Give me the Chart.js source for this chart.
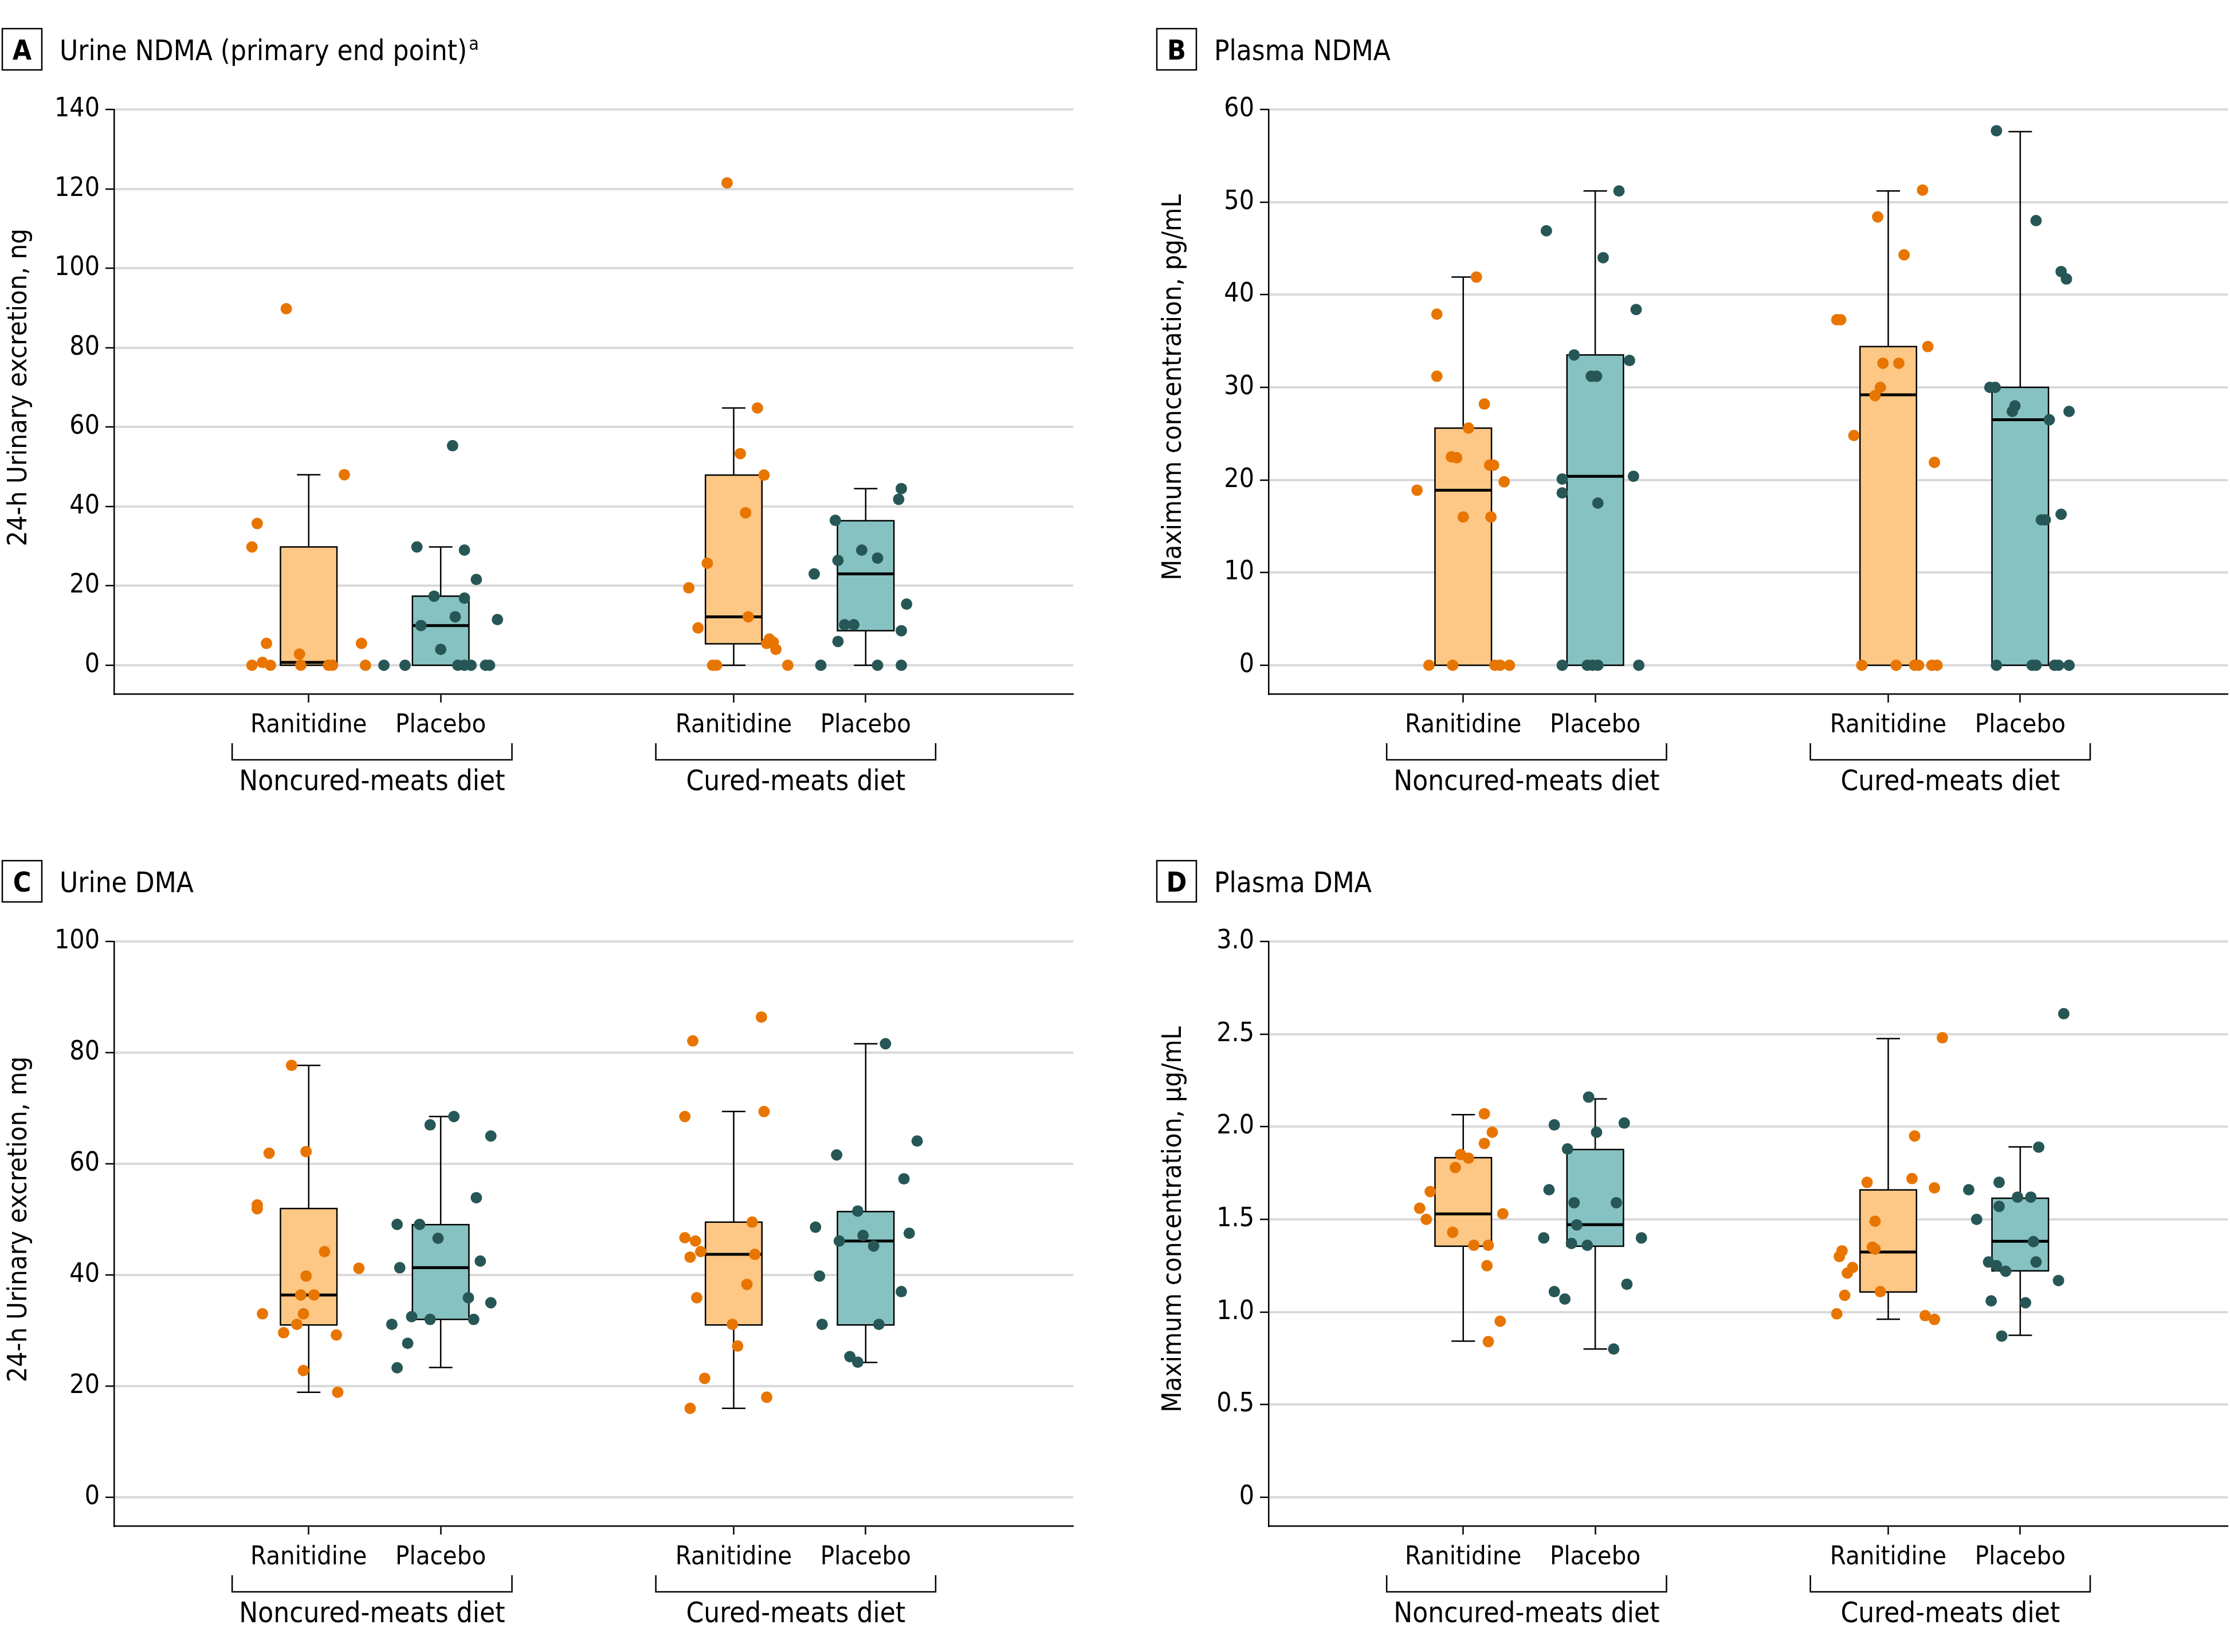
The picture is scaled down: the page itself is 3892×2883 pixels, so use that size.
<!DOCTYPE html>
<html>
<head>
<meta charset="utf-8">
<script src="https://cdn.jsdelivr.net/npm/chart.js@4.4.1/dist/chart.umd.min.js"></script>
<style>
  body { margin: 0; background: #fff; }
  #page { position: relative; width: 3892px; height: 2883px; background: #fff; overflow: hidden; }
  canvas { position: absolute; }
</style>
</head>
<body>
<div id="page">
  <canvas id="chartA" width="1883" height="1431" style="left:0px;top:0px"></canvas>
  <canvas id="chartB" width="1883" height="1431" style="left:2015px;top:0px"></canvas>
  <canvas id="chartC" width="1883" height="1431" style="left:0px;top:1452px"></canvas>
  <canvas id="chartD" width="1883" height="1431" style="left:2015px;top:1452px"></canvas>
</div>
<script>
const FONT = '"DejaVu Sans Condensed", "DejaVu Sans", sans-serif';

// categories
const groupLabels = ['Ranitidine', 'Placebo', 'Ranitidine', 'Placebo'];
const groupPos = [1, 2, 4.22, 5.22];
const dietLabels = ['Noncured-meats diet', 'Cured-meats diet'];
const dietPos = [1.48, 4.69];

// A - urine NDMA, ng (values + horizontal jitter in category units)
const aRanNon = [89.8, 35.7, 29.8, 48.0, 5.5, 5.5, 2.8, 0, 0.7, 0, 0, 0, 0, 0];
const aRanNonX = [-0.17, -0.39, -0.43, 0.27, -0.32, 0.40, -0.07, -0.43, -0.35, -0.29, -0.06, 0.15, 0.18, 0.43];
const aPlaNon = [55.3, 29.8, 29.0, 21.6, 17.4, 16.9, 12.2, 11.5, 10.0, 4.0, 0, 0, 0, 0, 0, 0, 0];
const aPlaNonX = [0.09, -0.18, 0.18, 0.27, -0.05, 0.18, 0.11, 0.43, -0.15, 0, -0.43, -0.27, 0.13, 0.18, 0.23, 0.34, 0.37];
const aRanCur = [121.5, 64.8, 53.3, 47.9, 38.4, 25.7, 19.5, 9.4, 12.2, 6.6, 5.5, 5.8, 4.0, 0, 0, 0];
const aRanCurX = [-0.05, 0.18, 0.05, 0.23, 0.09, -0.20, -0.34, -0.27, 0.11, 0.27, 0.25, 0.30, 0.32, -0.16, -0.13, 0.41];
const aPlaCur = [44.5, 41.8, 36.5, 23.0, 26.4, 29.0, 27.0, 15.4, 10.2, 10.2, 8.7, 6.0, 0, 0, 0];
const aPlaCurX = [0.27, 0.25, -0.23, -0.39, -0.21, -0.03, 0.09, 0.31, -0.16, -0.09, 0.27, -0.21, -0.34, 0.09, 0.27];
// [whisker low, Q1, median, Q3, whisker high]
const aBoxes = [[0, 0, 0.7, 29.8, 48.0], [0, 0, 10.0, 17.4, 29.8], [0, 5.4, 12.2, 47.9, 64.8], [0, 8.7, 23.0, 36.4, 44.5]];
const aTicks = [0, 20, 40, 60, 80, 100, 120, 140];

// B - plasma NDMA, pg/mL
const bRanNon = [41.9, 37.9, 31.2, 28.2, 25.6, 22.5, 22.4, 21.6, 21.6, 19.8, 18.9, 16.0, 16.0, 0, 0, 0, 0, 0];
const bRanNonX = [0.10, -0.20, -0.20, 0.16, 0.04, -0.09, -0.05, 0.20, 0.23, 0.31, -0.35, 0, 0.21, -0.26, -0.08, 0.24, 0.28, 0.35];
const bPlaNon = [51.2, 46.9, 44.0, 38.4, 33.5, 32.9, 31.2, 31.2, 20.1, 18.6, 20.4, 17.5, 0, 0, 0, 0, 0];
const bPlaNonX = [0.18, -0.37, 0.06, 0.31, -0.16, 0.26, -0.03, 0.01, -0.25, -0.25, 0.29, 0.02, -0.25, -0.06, -0.02, 0.02, 0.33];
const bRanCur = [51.3, 48.4, 44.3, 37.3, 37.3, 34.4, 32.6, 32.6, 30.0, 29.1, 24.8, 21.9, 0, 0, 0, 0, 0, 0];
const bRanCurX = [0.26, -0.08, 0.12, -0.39, -0.36, 0.30, -0.04, 0.08, -0.06, -0.10, -0.26, 0.35, -0.20, 0.06, 0.20, 0.23, 0.33, 0.37];
const bPlaCur = [57.7, 48.0, 42.5, 41.7, 30.0, 30.0, 28.0, 27.4, 26.5, 27.4, 15.7, 15.7, 16.3, 0, 0, 0, 0, 0, 0];
const bPlaCurX = [-0.18, 0.12, 0.31, 0.35, -0.23, -0.19, -0.04, -0.06, 0.22, 0.37, 0.16, 0.19, 0.31, -0.18, 0.09, 0.12, 0.26, 0.29, 0.37];
const bBoxes = [[0, 0, 18.9, 25.6, 41.9], [0, 0, 20.4, 33.5, 51.2], [0, 0, 29.2, 34.4, 51.2], [0, 0, 26.5, 30.0, 57.6]];
const bTicks = [0, 10, 20, 30, 40, 50, 60];

// C - urine DMA, mg
const cRanNon = [77.7, 61.9, 62.2, 52.6, 51.9, 44.2, 41.2, 39.8, 36.4, 36.4, 33.0, 33.0, 31.1, 29.6, 29.2, 22.8, 18.9];
const cRanNonX = [-0.13, -0.30, -0.02, -0.39, -0.39, 0.12, 0.38, -0.02, -0.06, 0.04, -0.35, -0.04, -0.09, -0.19, 0.21, -0.04, 0.22];
const cPlaNon = [68.5, 67.0, 65.0, 53.9, 49.1, 49.1, 46.6, 42.5, 41.3, 35.9, 35.0, 32.5, 32.0, 32.0, 31.1, 27.7, 23.3];
const cPlaNonX = [0.10, -0.08, 0.38, 0.27, -0.33, -0.16, -0.02, 0.30, -0.31, 0.21, 0.38, -0.22, -0.08, 0.25, -0.37, -0.25, -0.33];
const cRanCur = [86.4, 82.1, 68.5, 69.4, 49.5, 46.7, 46.1, 44.2, 43.2, 43.7, 38.3, 35.9, 31.1, 27.2, 21.4, 16.0, 18.0];
const cRanCurX = [0.21, -0.31, -0.37, 0.23, 0.14, -0.37, -0.29, -0.25, -0.33, 0.16, 0.10, -0.28, -0.01, 0.03, -0.22, -0.33, 0.25];
const cPlaCur = [81.6, 64.1, 61.6, 57.3, 51.5, 48.6, 47.5, 47.1, 46.1, 45.2, 39.8, 37.0, 31.1, 31.1, 25.3, 24.3];
const cPlaCurX = [0.15, 0.39, -0.22, 0.29, -0.06, -0.38, 0.33, -0.02, -0.20, 0.06, -0.35, 0.27, -0.33, 0.10, -0.12, -0.06];
const cBoxes = [[18.9, 31.0, 36.4, 51.95, 77.7], [23.35, 32.0, 41.3, 49.05, 68.5], [16.0, 31.0, 43.7, 49.5, 69.4], [24.25, 31.0, 46.1, 51.4, 81.6]];
const cTicks = [0, 20, 40, 60, 80, 100];

// D - plasma DMA, µg/mL
const dRanNon = [2.07, 1.97, 1.91, 1.85, 1.83, 1.78, 1.65, 1.56, 1.50, 1.53, 1.43, 1.36, 1.36, 1.25, 0.95, 0.84];
const dRanNonX = [0.16, 0.22, 0.16, -0.02, 0.04, -0.06, -0.25, -0.33, -0.28, 0.30, -0.08, 0.08, 0.19, 0.18, 0.28, 0.19];
const dPlaNon = [2.16, 2.01, 2.02, 1.97, 1.88, 1.66, 1.59, 1.59, 1.47, 1.40, 1.40, 1.37, 1.36, 1.15, 1.11, 1.07, 0.80];
const dPlaNonX = [-0.05, -0.31, 0.22, 0.01, -0.21, -0.35, -0.16, 0.16, -0.14, -0.39, 0.35, -0.18, -0.06, 0.24, -0.31, -0.23, 0.14];
const dRanCur = [2.48, 1.95, 1.70, 1.72, 1.67, 1.49, 1.35, 1.34, 1.33, 1.30, 1.24, 1.21, 1.11, 1.09, 0.99, 0.98, 0.96];
const dRanCurX = [0.41, 0.20, -0.16, 0.18, 0.35, -0.10, -0.12, -0.10, -0.35, -0.37, -0.27, -0.31, -0.06, -0.33, -0.39, 0.28, 0.35];
const dPlaCur = [2.61, 1.89, 1.70, 1.66, 1.62, 1.62, 1.57, 1.50, 1.38, 1.27, 1.25, 1.22, 1.27, 1.17, 1.06, 1.05, 0.87];
const dPlaCurX = [0.33, 0.14, -0.16, -0.39, -0.02, 0.08, -0.16, -0.33, 0.10, -0.24, -0.18, -0.11, 0.12, 0.29, -0.22, 0.04, -0.14];
const dBoxes = [[0.843, 1.355, 1.529, 1.833, 2.065], [0.80, 1.355, 1.471, 1.877, 2.15], [0.961, 1.108, 1.324, 1.659, 2.476], [0.874, 1.222, 1.382, 1.614, 1.891]];
const dTicks = [0, 0.5, 1.0, 1.5, 2.0, 2.5, 3.0];
const dTickLabels = ['0', '0.5', '1.0', '1.5', '2.0', '2.5', '3.0'];

const ORANGE = '#e87500';
const ORANGE_BOX = '#fdc785';
const TEAL = '#265756';
const TEAL_BOX = '#86c2c1';
const BOX_HALF = 0.214;
const CAP_HALF = 0.089;

const panelPlugin = (cfg) => ({
  id: 'panel' + cfg.letter,
  beforeDatasetsDraw(chart) {
    const { ctx, scales: { x, y } } = chart;
    const unit = x.getPixelForValue(1) - x.getPixelForValue(0);
    cfg.boxes.forEach((b, i) => {
      const [lo, q1, med, q3, hi] = b;
      const cx = x.getPixelForValue(groupPos[i]);
      const bw = BOX_HALF * unit, cw = CAP_HALF * unit;
      const yTop = y.getPixelForValue(q3), yBot = y.getPixelForValue(q1);
      ctx.save();
      ctx.strokeStyle = '#000';
      ctx.lineWidth = 2.5;
      // whiskers
      ctx.beginPath();
      if (hi > q3) {
        const yh = y.getPixelForValue(hi);
        ctx.moveTo(cx, yTop); ctx.lineTo(cx, yh);
        ctx.moveTo(cx - cw, yh); ctx.lineTo(cx + cw, yh);
      }
      if (lo < q1) {
        const yl = y.getPixelForValue(lo);
        ctx.moveTo(cx, yBot); ctx.lineTo(cx, yl);
        ctx.moveTo(cx - cw, yl); ctx.lineTo(cx + cw, yl);
      }
      ctx.stroke();
      // box
      ctx.fillStyle = i % 2 ? TEAL_BOX : ORANGE_BOX;
      ctx.fillRect(cx - bw, yTop, 2 * bw, yBot - yTop);
      ctx.strokeRect(cx - bw, yTop, 2 * bw, yBot - yTop);
      // median
      const ym = y.getPixelForValue(med);
      ctx.lineWidth = 5;
      ctx.beginPath();
      ctx.moveTo(cx - bw, ym); ctx.lineTo(cx + bw, ym);
      ctx.stroke();
      ctx.restore();
    });
  },
  afterDraw(chart) {
    const { ctx, chartArea, scales: { x, y } } = chart;
    ctx.save();
    ctx.strokeStyle = '#000';
    ctx.fillStyle = '#000';
    ctx.lineWidth = 2.5;

    // panel letter + title
    ctx.strokeRect(4, 50, 69, 72);
    ctx.font = `bold 48px ${FONT}`;
    ctx.textAlign = 'center';
    ctx.textBaseline = 'alphabetic';
    ctx.fillText(cfg.letter, 38.5, 104);
    ctx.font = `49px ${FONT}`;
    ctx.textAlign = 'left';
    ctx.fillText(cfg.title, 104, 105);
    if (cfg.sup) {
      const w = ctx.measureText(cfg.title).width;
      ctx.font = `32px ${FONT}`;
      ctx.fillText(cfg.sup, 104 + w + 3, 87);
    }

    // y axis title, centred on the gridded range
    const midY = (y.getPixelForValue(0) + y.getPixelForValue(cfg.yMax)) / 2;
    ctx.save();
    ctx.translate(34, midY);
    ctx.rotate(-Math.PI / 2);
    ctx.font = `47px ${FONT}`;
    ctx.textAlign = 'center';
    ctx.textBaseline = 'middle';
    ctx.fillText(cfg.yTitle, 0, 0);
    ctx.restore();

    // diet brackets
    const base = chartArea.bottom;
    dietPos.forEach((p, k) => {
      const l = x.getPixelForValue(p - 1.06), r = x.getPixelForValue(p + 1.06);
      ctx.beginPath();
      ctx.moveTo(l, base + 86); ctx.lineTo(l, base + 115);
      ctx.lineTo(r, base + 115); ctx.lineTo(r, base + 86);
      ctx.stroke();
      ctx.font = `49px ${FONT}`;
      ctx.textAlign = 'center';
      ctx.textBaseline = 'middle';
      ctx.fillText(dietLabels[k], x.getPixelForValue(p), base + 155);
    });
    ctx.restore();
  }
});

const makeChart = (id, cfg) => {
  const ctx = document.getElementById(id);
  const datasets = cfg.groups.map((g, i) => ({
    data: g[0].map((v, k) => ({ x: groupPos[i] + g[1][k], y: v })),
    backgroundColor: i % 2 ? TEAL : ORANGE,
    pointRadius: 10,
    pointBorderWidth: 0,
    pointHoverRadius: 10,
    clip: false
  }));

  new Chart(ctx, {
    type: 'scatter',
    data: { datasets },
    options: {
      responsive: false,
      animation: false,
      devicePixelRatio: 1,
      layout: { padding: { top: 191, right: 3, bottom: 0, left: 0 } },
      plugins: { legend: { display: false }, tooltip: { enabled: false } },
      scales: {
        x: {
          type: 'linear',
          min: -0.475,
          max: 6.792,
          afterBuildTicks: (s) => { s.ticks = groupPos.map(v => ({ value: v })); },
          afterFit: (s) => { s.height = 220; },
          ticks: {
            callback: (v, i) => groupLabels[i],
            font: { family: FONT, size: 45 },
            color: '#000',
            padding: 13,
            maxRotation: 0,
            autoSkip: false
          },
          grid: { drawOnChartArea: false, tickLength: 15, tickColor: '#000', tickWidth: 2.5 },
          border: { color: '#000', width: 2.5 }
        },
        y: {
          type: 'linear',
          min: -cfg.yMax * 0.0516,
          max: cfg.yMax,
          afterBuildTicks: (s) => { s.ticks = cfg.yTicks.map(v => ({ value: v })); },
          afterFit: (s) => { s.width = 199; },
          ticks: {
            callback: (v, i) => cfg.tickLabels[i],
            font: { family: FONT, size: 46 },
            color: '#000',
            padding: 10
          },
          grid: { color: '#d9d9d9', lineWidth: 4, tickLength: 15, tickColor: '#000', tickWidth: 2.5 },
          border: { color: '#000', width: 2.5 }
        }
      }
    },
    plugins: [panelPlugin(cfg)]
  });
};

window.addEventListener('load', () => {
  makeChart('chartA', {
    letter: 'A', title: 'Urine NDMA (primary end point)', sup: 'a',
    yTitle: '24-h Urinary excretion, ng', yMax: 140,
    yTicks: aTicks, tickLabels: aTicks.map(String), boxes: aBoxes,
    groups: [[aRanNon, aRanNonX], [aPlaNon, aPlaNonX], [aRanCur, aRanCurX], [aPlaCur, aPlaCurX]]
  });
  makeChart('chartB', {
    letter: 'B', title: 'Plasma NDMA',
    yTitle: 'Maximum concentration, pg/mL', yMax: 60,
    yTicks: bTicks, tickLabels: bTicks.map(String), boxes: bBoxes,
    groups: [[bRanNon, bRanNonX], [bPlaNon, bPlaNonX], [bRanCur, bRanCurX], [bPlaCur, bPlaCurX]]
  });
  makeChart('chartC', {
    letter: 'C', title: 'Urine DMA',
    yTitle: '24-h Urinary excretion, mg', yMax: 100,
    yTicks: cTicks, tickLabels: cTicks.map(String), boxes: cBoxes,
    groups: [[cRanNon, cRanNonX], [cPlaNon, cPlaNonX], [cRanCur, cRanCurX], [cPlaCur, cPlaCurX]]
  });
  makeChart('chartD', {
    letter: 'D', title: 'Plasma DMA',
    yTitle: 'Maximum concentration, µg/mL', yMax: 3.0,
    yTicks: dTicks, tickLabels: dTickLabels, boxes: dBoxes,
    groups: [[dRanNon, dRanNonX], [dPlaNon, dPlaNonX], [dRanCur, dRanCurX], [dPlaCur, dPlaCurX]]
  });
});
</script>
</body>
</html>
